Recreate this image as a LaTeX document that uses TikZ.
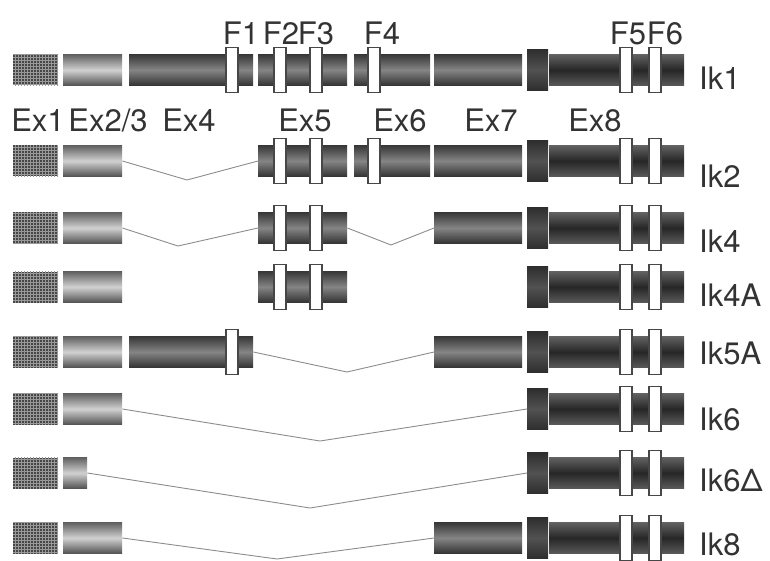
\documentclass[tikz,border=0pt]{standalone}
\usepackage{fontspec}
\setmainfont{TeX Gyre Heros}
\usepackage{tikz}
\usetikzlibrary{patterns, positioning}

\tikzset{
  exon/.style={rectangle, inner sep=0pt, minimum height=31pt, anchor=west},
  exfirst/.style={exon, preaction={fill=black!72}, pattern=grid, pattern color=black!40},
  exlight/.style={exon, top color=black!62, bottom color=black!68, middle color=black!18},
  exdark/.style={exon, top color=black!78, bottom color=black!80, middle color=black!48},
  excap/.style={exon, minimum width=21pt, minimum height=41pt, top color=black!82, bottom color=black!82, middle color=black!68},
  exlast/.style={exon, top color=black!62, bottom color=black!65, middle color=black!85},
  fbox/.style={rectangle, inner sep=0pt, minimum width=12pt, minimum height=45pt, draw=black!72, line width=1.2pt, fill=white},
  splice/.style={black!45, line width=0.9pt},
  lbl/.style={font=\fontsize{31}{31}\selectfont, text=black!80, inner sep=0pt}
}

\begin{document}
\begin{tikzpicture}[x=1pt, y=-1pt]
  \useasboundingbox (0,0) rectangle (770,561);

  % Exon 1, exon 8 with F5 and F6 (all isoforms)
  \foreach \r/\y in {1/70,2/161,4/228,4A/287,5A/352,6/409,6D/473,8/538}{
    \node[exfirst, minimum width=45pt] (ex1r\r) at (13,\y) {};
    \node[excap] (capr\r) at (527,\y) {};
    \node[exlast, minimum width=135pt] (ex8r\r) at (549,\y) {};
    \node[fbox] (f5r\r) at (626,\y) {};
    \node[fbox] (f6r\r) at (655,\y) {};
  }

  % Exon 2/3
  \foreach \r/\y in {1/70,2/161,4/228,4A/287,5A/352,6/409,8/538}
    \node[exlight, minimum width=59pt] (ex23r\r) at (63,\y) {};
  \node[exlight, minimum width=24pt] (ex23r6D) at (63,473) {};

  % Exon 4 with F1
  \foreach \r/\y in {1/70,5A/352}{
    \node[exdark, minimum width=124pt] (ex4r\r) at (129,\y) {};
    \node[fbox] (f1r\r) at (232,\y) {};
  }

  % Exon 5 with F2 and F3
  \foreach \r/\y in {1/70,2/161,4/228,4A/287}{
    \node[exdark, minimum width=89pt] (ex5r\r) at (258,\y) {};
    \node[fbox] (f2r\r) at (280,\y) {};
    \node[fbox] (f3r\r) at (316,\y) {};
  }

  % Exon 6 with F4
  \foreach \r/\y in {1/70,2/161}{
    \node[exdark, minimum width=76pt] (ex6r\r) at (354,\y) {};
    \node[fbox] (f4r\r) at (374,\y) {};
  }

  % Exon 7
  \foreach \r/\y in {1/70,2/161,4/228,5A/352,8/538}
    \node[exdark, minimum width=88pt] (ex7r\r) at (434,\y) {};

  % Splicing
  \coordinate (v2) at (187,180);
  \coordinate (v4a) at (178,246);
  \coordinate (v4b) at (391,245);
  \coordinate (v5A) at (347,372);
  \coordinate (v6) at (320,441);
  \coordinate (v6D) at (310,508);
  \coordinate (v8) at (277,559);
  \draw[splice] (ex23r2.east) -- (v2) -- (ex5r2.west);
  \draw[splice] (ex23r4.east) -- (v4a) -- (ex5r4.west);
  \draw[splice] (ex5r4.east) -- (v4b) -- (ex7r4.west);
  \draw[splice] (ex4r5A.east) -- (v5A) -- (ex7r5A.west);
  \draw[splice] (ex23r6.east) -- (v6) -- (capr6.west);
  \draw[splice] (ex23r6D.east) -- (v6D) -- (capr6D.west);
  \draw[splice] (ex23r8.east) -- (v8) -- (ex7r8.west);

  % Domain labels
  \node[lbl, anchor=base] (lf1) at (241,45) {F1};
  \node[lbl, anchor=base] (lf2) at (281,45) {F2};
  \node[lbl, anchor=base] (lf3) at (316,45) {F3};
  \node[lbl, anchor=base] (lf4) at (382,45) {F4};
  \node[lbl, anchor=base] (lf5) at (628,45) {F5};
  \node[lbl, anchor=base] (lf6) at (665,45) {F6};

  % Exon labels
  \node[lbl, anchor=base] (lex1) at (38,132) {Ex1};
  \node[lbl, anchor=base] (lex23) at (108,132) {Ex2/3};
  \node[lbl, anchor=base] (lex4) at (189,132) {Ex4};
  \node[lbl, anchor=base] (lex5) at (305,132) {Ex5};
  \node[lbl, anchor=base] (lex6) at (400,132) {Ex6};
  \node[lbl, anchor=base] (lex7) at (491,132) {Ex7};
  \node[lbl, anchor=base] (lex8) at (595,132) {Ex8};

  % Isoform names
  \node[lbl, anchor=base west] (nik1) at (699,90) {Ik1};
  \node[lbl, anchor=base west] (nik2) at (699,188) {Ik2};
  \node[lbl, anchor=base west] (nik4) at (699,252) {Ik4};
  \node[lbl, anchor=base west] (nik4A) at (699,306) {Ik4A};
  \node[lbl, anchor=base west] (nik5A) at (699,364) {Ik5A};
  \node[lbl, anchor=base west] (nik6) at (699,430) {Ik6};
  \node[lbl, anchor=base west] (nik6D) at (699,491) {Ik6Δ};
  \node[lbl, anchor=base west] (nik8) at (699,555) {Ik8};
\end{tikzpicture}
\end{document}
